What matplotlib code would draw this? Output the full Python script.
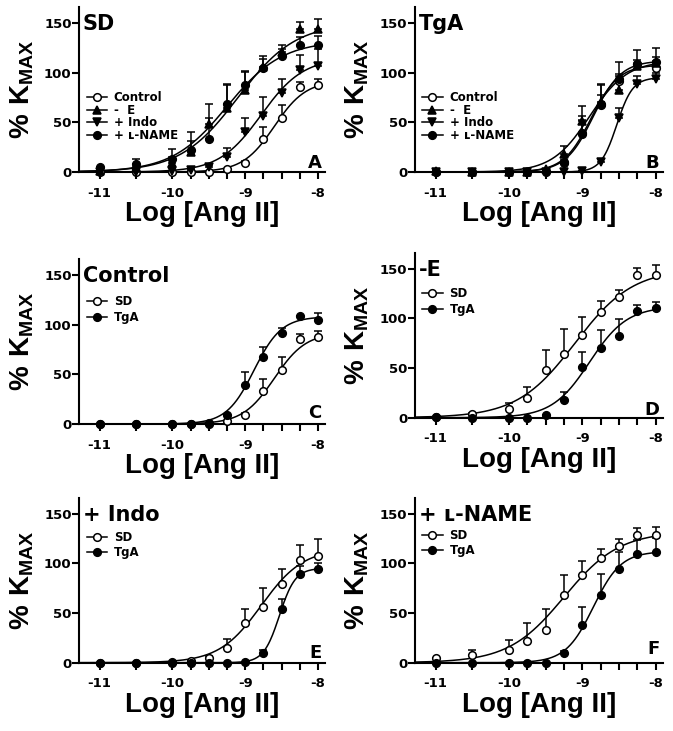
import numpy as np
import matplotlib.pyplot as plt
from matplotlib.lines import Line2D

plt.rcParams['font.family'] = 'DejaVu Sans'
plt.rcParams['font.weight'] = 'bold'
plt.rcParams['axes.unicode_minus'] = False
plt.rcParams['mathtext.fontset'] = 'custom'
plt.rcParams['mathtext.bf'] = 'Liberation Sans:bold'
plt.rcParams['mathtext.rm'] = 'Liberation Sans:bold'

# log concentration of Ang II
log_dose = [-11, -10.5, -10, -9.75, -9.5, -9.25, -9, -8.75, -8.5, -8.25, -8]

# SD rats: mean and upper SEM
sd_control = [0, 0, 0, 0, 0, 3, 9, 33, 54, 86, 88]
sd_control_err = [0, 0, 0, 0, 0, 0, 2, 12, 13, 5, 6]
sd_minus_e = [1, 4, 9, 20, 48, 64, 83, 106, 121, 144, 144]
sd_minus_e_err = [0, 1, 6, 11, 20, 25, 18, 11, 7, 7, 10]
sd_indo = [0, 0, 1, 2, 5, 15, 40, 56, 79, 103, 107]
sd_indo_err = [0, 0, 0, 1, 2, 9, 14, 19, 15, 15, 17]
sd_lname = [5, 8, 13, 22, 33, 68, 88, 105, 117, 128, 128]
sd_lname_err = [0, 5, 10, 18, 21, 20, 14, 9, 7, 8, 9]

# TgA rats
tg_control = [0, 0, 0, 0, 1, 9, 39, 67, 92, 109, 105]
tg_control_err = [0, 0, 0, 0, 0, 0, 13, 10, 5, 0, 7]
tg_minus_e = [1, 0, 0, 0, 3, 18, 51, 70, 82, 107, 110]
tg_minus_e_err = [0, 0, 0, 0, 0, 8, 15, 18, 17, 6, 6]
tg_indo = [0, 0, 0, 0, 0, 0, 1, 10, 54, 89, 94]
tg_indo_err = [0, 0, 0, 0, 0, 0, 0, 3, 10, 8, 6]
tg_lname = [0, 0, 0, 0, 0, 10, 38, 68, 94, 109, 111]
tg_lname_err = [0, 0, 0, 0, 0, 2, 18, 21, 17, 14, 14]

# sigmoid fit parameters (top, logEC50, hill)
sd_control_fit = (92, -8.6, 2.0)
sd_minus_e_fit = (150, -9.1, 1.1)
sd_indo_fit = (115, -8.78, 1.5)
sd_lname_fit = (132, -9.25, 1.15)
tg_control_fit = (108, -8.88, 2.3)
tg_minus_e_fit = (112, -8.9, 1.7)
tg_indo_fit = (95, -8.53, 4.0)
tg_lname_fit = (112, -8.85, 2.3)

panel_titles = ['SD', 'TgA', 'Control', '-E', '+ Indo', '+ \u029f-NAME']
panel_letters = ['A', 'B', 'C', 'D', 'E', 'F']
x_ticks = [-11, -10, -9, -8]
x_ticklabels = ['-11', '-10', '-9', '-8']
x_minor = [-10.5, -9.75, -9.5, -9.25, -8.75, -8.5, -8.25]
y_ticks = [0, 50, 100, 150]

XMIN, XMAX = -11.28, -7.9
xfit = np.linspace(XMIN, -8, 300)


def logistic(x, top, ec50, hill):
    return top / (1.0 + 10.0 ** ((ec50 - x) * hill))


def draw_series(ax, y, err, fit, marker, fill, ms):
    ax.plot(xfit, logistic(xfit, *fit), color='black', lw=1.1, zorder=2)
    ax.errorbar(log_dose, y, yerr=[np.zeros(len(err)), err], fmt='none', ecolor='black',
                elinewidth=1.1, capsize=3, capthick=1.1, zorder=3, clip_on=False)
    ax.plot(log_dose, y, ls='none', marker=marker, ms=ms, mfc=fill, mec='black', mew=1.1,
            zorder=4, clip_on=False)
    return Line2D([], [], color='black', lw=1.1, marker=marker, ms=ms, mfc=fill, mec='black', mew=1.1)


fig = plt.figure(figsize=(6.73, 7.31), dpi=100)
W, H = 673.0, 731.0
# (left px, bottom px, width px) for each panel
boxes = [(79.3, 172, 246), (415, 172, 248), (79.3, 424, 246),
         (415, 417.7, 248), (79.3, 662.7, 246), (415, 662.7, 248)]
letter_off = [3.7, 3.7, 5.7, 2.7, 5.0, 9.0]
axs = []
for (l, b, w) in boxes:
    axs.append(fig.add_axes([l / W, (H - b) / H, w / W, 165 / H]))

series = {
    'control': (sd_control, sd_control_err, sd_control_fit, tg_control, tg_control_err, tg_control_fit),
    'minus_e': (sd_minus_e, sd_minus_e_err, sd_minus_e_fit, tg_minus_e, tg_minus_e_err, tg_minus_e_fit),
    'indo': (sd_indo, sd_indo_err, sd_indo_fit, tg_indo, tg_indo_err, tg_indo_fit),
    'lname': (sd_lname, sd_lname_err, sd_lname_fit, tg_lname, tg_lname_err, tg_lname_fit),
}
styles = {'control': ('o', 'white', 5.5), 'minus_e': ('^', 'black', 6),
          'indo': ('v', 'black', 6), 'lname': ('o', 'black', 5.5)}
treat_labels = ['Control', '-  E', '+ Indo', '+ \u029f-NAME']

# top row: all treatments for one strain
for k, ax in enumerate(axs[:2]):
    handles = []
    for key in ['control', 'minus_e', 'indo', 'lname']:
        s = series[key]
        y, e, f = (s[0], s[1], s[2]) if k == 0 else (s[3], s[4], s[5])
        m, fill, ms = styles[key]
        handles.append(draw_series(ax, y, e, f, m, fill, ms))
    ax.legend(handles, treat_labels, loc='upper left', bbox_to_anchor=(0.03, 0.49),
              frameon=False, fontsize=8.5, handlelength=1.7, handletextpad=0.6,
              labelspacing=-0.03, borderpad=0, borderaxespad=0, numpoints=1)

# lower rows: SD vs TgA for one treatment
leg_tops = [0.78, 0.79, 0.80, 0.81]
for k, key in enumerate(['control', 'minus_e', 'indo', 'lname']):
    ax = axs[k + 2]
    s = series[key]
    h1 = draw_series(ax, s[0], s[1], s[2], 'o', 'white', 5.5)
    h2 = draw_series(ax, s[3], s[4], s[5], 'o', 'black', 5.5)
    ax.legend([h1, h2], ['SD', 'TgA'], loc='upper left', bbox_to_anchor=(0.03, leg_tops[k]),
              frameon=False, fontsize=8.5, handlelength=1.7, handletextpad=0.6,
              labelspacing=0.2, borderpad=0, borderaxespad=0, numpoints=1)

for i, ax in enumerate(axs):
    ax.set_xlim(XMIN, XMAX)
    ax.set_ylim(0, 166)
    ax.spines['top'].set_visible(False)
    ax.spines['right'].set_visible(False)
    ax.spines['left'].set_linewidth(1.5)
    ax.spines['bottom'].set_linewidth(1.5)
    ax.set_xticks(x_ticks)
    ax.set_xticklabels(x_ticklabels)
    ax.set_xticks(x_minor, minor=True)
    ax.set_yticks(y_ticks)
    ax.tick_params(which='both', direction='out', length=5, width=1.5, labelsize=9.5)
    ax.tick_params(axis='x', pad=5.5)
    ax.tick_params(axis='y', pad=0.5)
    ax.set_xlabel('Log [Ang II]', fontsize=20, fontfamily='Liberation Sans',
                  fontweight='bold', labelpad=1)
    ax.set_ylabel(r'$\mathbf{\%\ K_{MAX}}$', fontsize=20, labelpad=6)
    ax.text(0.015, 0.86, panel_titles[i], transform=ax.transAxes, fontsize=15,
            ha='left', va='baseline')
    ax.text(0.985, letter_off[i] / 165, panel_letters[i], transform=ax.transAxes,
            fontsize=13, ha='right', va='baseline')

fig.savefig('out.png', dpi=100)
